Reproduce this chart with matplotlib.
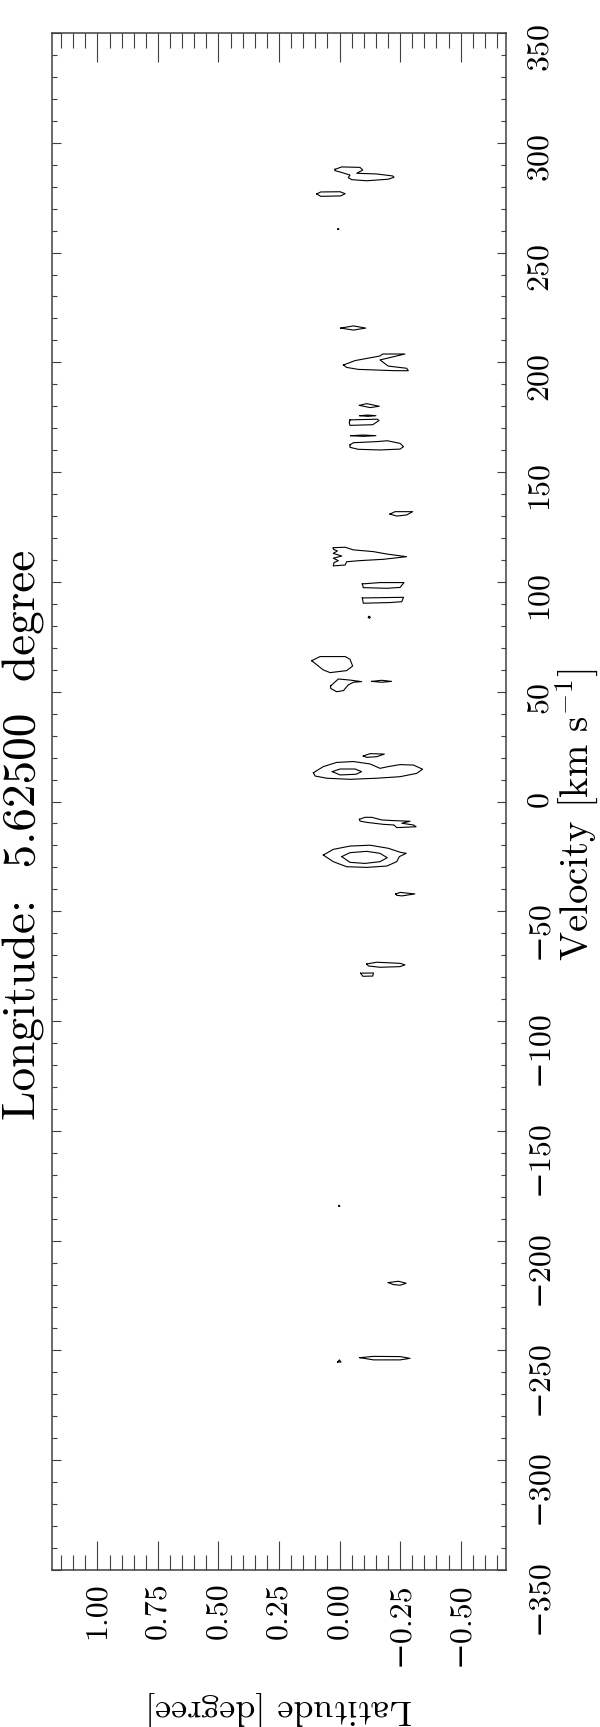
import numpy as np
import matplotlib.pyplot as plt

plt.rcParams['font.family'] = ['cmr10', 'DejaVu Serif']
plt.rcParams['mathtext.fontset'] = 'cm'
plt.rcParams['axes.unicode_minus'] = True

# axis ranges
lat_range = (1.1875, -0.6875)
vel_range = (-350, 350)
vel_ticks = np.arange(-350, 351, 50)
lat_ticks = [1.00, 0.75, 0.50, 0.25, 0.00, -0.25, -0.50]
lat_labels = ['1.00', '0.75', '0.50', '0.25', '0.00', '\u22120.25', '\u22120.50']

title_text = 'Longitude:  5.62500  degree'

# contour outlines, (latitude, velocity) pairs
contours_high = [
    [(0.019, 287.9), (-0.009, 289.0), (-0.084, 288.8), (-0.096, 287.6), (-0.071, 286.1),
     (-0.153, 285.8), (-0.219, 284.9), (-0.225, 284.3), (-0.201, 283.4), (-0.112, 282.7),
     (-0.050, 283.2), (-0.036, 284.1), (-0.043, 285.3), (-0.002, 286.7), (0.019, 287.3)],
    [(0.094, 276.7), (0.078, 277.6), (-0.002, 277.7), (-0.023, 276.8), (-0.005, 275.8),
     (0.078, 275.6)],
    [(0.007, 260.7), (0.005, 261.0), (0.003, 260.5)],
    [(-0.005, 215.6), (-0.057, 216.6), (-0.108, 215.6), (-0.057, 214.7)],
    [(-0.016, 198.8), (-0.064, 200.8), (-0.167, 202.9), (-0.178, 203.8), (-0.270, 203.8),
     (-0.167, 201.1), (-0.201, 198.3), (-0.277, 197.3), (-0.284, 196.2), (-0.229, 196.2),
     (-0.153, 196.5), (-0.077, 196.8), (-0.029, 197.7)],
    [(-0.082, 180.4), (-0.112, 181.2), (-0.164, 180.0), (-0.126, 179.4)],
    [(-0.084, 175.7), (-0.117, 176.0), (-0.150, 175.7), (-0.117, 175.4)],
    [(-0.043, 173.8), (-0.156, 174.1), (-0.163, 173.5), (-0.137, 171.6), (-0.043, 171.3),
     (-0.040, 172.5)],
    [(-0.046, 166.6), (-0.098, 166.9), (-0.150, 166.6), (-0.098, 166.3)],
    [(-0.043, 162.4), (-0.057, 163.4), (-0.153, 163.9), (-0.197, 164.3), (-0.250, 163.1),
     (-0.264, 161.6), (-0.250, 160.5), (-0.167, 160.1), (-0.077, 160.4), (-0.043, 161.3)],
    [(-0.208, 130.9), (-0.229, 132.0), (-0.302, 132.0), (-0.277, 130.5), (-0.236, 130.0)],
    [(0.026, 115.6), (-0.023, 115.8), (-0.057, 114.6), (-0.140, 113.8), (-0.195, 112.7),
     (-0.277, 111.5), (-0.181, 110.3), (-0.084, 109.7), (-0.029, 109.2), (-0.023, 107.7),
     (0.026, 107.3), (0.023, 108.8), (0.005, 109.7), (0.026, 110.8), (-0.009, 111.8),
     (0.026, 113.0), (0.009, 114.1), (0.026, 114.9)],
]

contours_mid = [
    [(-0.094, 99.1), (-0.167, 99.7), (-0.266, 99.7), (-0.250, 97.5), (-0.195, 97.1),
     (-0.098, 97.4)],
    [(-0.094, 92.7), (-0.264, 93.0), (-0.257, 91.0), (-0.208, 90.6), (-0.098, 90.3)],
    [(-0.119, 83.9), (-0.123, 84.4), (-0.127, 83.9), (-0.123, 83.4)],
    [(0.115, 64.1), (0.081, 66.0), (-0.023, 66.0), (-0.043, 64.8), (-0.054, 61.7),
     (-0.029, 59.6), (0.039, 58.7), (0.067, 59.9)],
    [(0.037, 52.6), (0.005, 55.8), (-0.043, 55.3), (-0.091, 54.6), (-0.057, 54.3),
     (-0.036, 53.1), (-0.016, 50.5), (0.012, 50.0), (0.037, 51.5)],
    [(-0.133, 54.7), (-0.174, 55.2), (-0.215, 54.7), (-0.174, 54.3)],
    [(-0.098, 20.7), (-0.126, 21.8), (-0.185, 21.6), (-0.153, 20.4), (-0.112, 20.1)],
    [(0.108, 13.1), (0.067, 15.9), (0.012, 17.8), (-0.057, 18.2), (-0.126, 17.1),
     (-0.167, 15.1), (-0.201, 15.9), (-0.250, 16.8), (-0.305, 16.6), (-0.343, 14.7),
     (-0.318, 12.8), (-0.250, 11.3), (-0.153, 10.6), (-0.043, 10.1), (0.053, 10.6),
     (0.101, 11.6)],
    [(0.030, 13.6), (-0.002, 14.8), (-0.064, 14.8), (-0.091, 13.6), (-0.068, 12.4),
     (-0.002, 12.1)],
    [(-0.082, -8.1), (-0.105, -7.2), (-0.133, -7.2), (-0.174, -8.4), (-0.222, -8.7),
     (-0.291, -9.0), (-0.257, -9.9), (-0.305, -10.7), (-0.316, -11.5), (-0.236, -11.9),
     (-0.225, -10.7), (-0.181, -10.4), (-0.112, -9.5), (-0.084, -8.9)],
    [(0.067, -24.4), (0.026, -21.8), (-0.043, -20.3), (-0.126, -19.9), (-0.201, -21.3),
     (-0.250, -23.1), (-0.275, -23.6), (-0.247, -25.1), (-0.236, -27.4), (-0.195, -29.4),
     (-0.112, -30.0), (-0.029, -29.7), (0.026, -27.4)],
    [(-0.009, -25.1), (-0.043, -23.3), (-0.112, -22.7), (-0.167, -23.6), (-0.197, -25.6),
     (-0.167, -27.4), (-0.105, -28.2), (-0.043, -27.7)],
    [(-0.232, -42.1), (-0.250, -41.4), (-0.311, -42.1), (-0.257, -43.0), (-0.236, -42.7)],
    [(-0.112, -74.0), (-0.153, -73.2), (-0.250, -73.7), (-0.270, -74.4), (-0.250, -75.2),
     (-0.167, -75.5), (-0.119, -74.9)],
    [(-0.087, -78.2), (-0.140, -78.1), (-0.137, -79.5), (-0.096, -79.6)],
]

contours_low = [
    [(0.003, -184.2), (0.001, -183.9), (-0.001, -184.4)],
    [(-0.201, -219.1), (-0.243, -218.5), (-0.275, -219.4), (-0.250, -220.3), (-0.222, -220.0)],
    [(-0.084, -253.3), (-0.140, -252.7), (-0.250, -252.8), (-0.291, -253.6), (-0.250, -254.3),
     (-0.140, -254.3)],
    [(0.008, -255.3), (0.001, -254.3), (-0.006, -255.3)],
]

fig = plt.figure(figsize=(6, 17.27), dpi=100)
ax = fig.add_axes([0.0867, 0.0909, 0.7567, 0.8900])

for c in contours_high + contours_mid + contours_low:
    pts = np.array(c + [c[0]])
    ax.plot(pts[:, 0], pts[:, 1], color='black', lw=0.8)

ax.set_xlim(*lat_range)
ax.set_ylim(*vel_range)

ax.set_xticks(lat_ticks)
ax.set_xticklabels(lat_labels, rotation=90, fontsize=23)
ax.set_xticks(np.arange(-0.65, 1.19, 0.05), minor=True)
ax.set_yticks(vel_ticks)
ax.set_yticklabels([str(v).replace('-', '\u2212') for v in vel_ticks], rotation=90,
                   fontsize=23)
ax.set_yticks(np.arange(-340, 350, 10), minor=True)

ax.tick_params(axis='both', which='both', direction='in', top=True, bottom=True,
               left=True, right=True, labelleft=False, labelright=True,
               colors='0.25', labelcolor='black', width=0.8)
ax.tick_params(axis='x', which='major', length=21, pad=9)
ax.tick_params(axis='x', which='minor', length=10.5)
ax.tick_params(axis='y', which='major', length=6.5, pad=14)
ax.tick_params(axis='y', which='minor', length=3.6)
for s in ax.spines.values():
    s.set_color('0.25')
    s.set_linewidth(1.1)

fig.text(0.040, 0.5165, title_text, rotation=90, fontsize=34, ha='center', va='center')
fig.text(0.963, 0.528, 'Velocity [km s$^{-1}$]', rotation=90, fontsize=28,
         ha='center', va='center')
fig.text(0.465, 0.011, 'Latitude [degree]', rotation=180, fontsize=26,
         ha='center', va='center')

fig.savefig('out.png', dpi=100)
